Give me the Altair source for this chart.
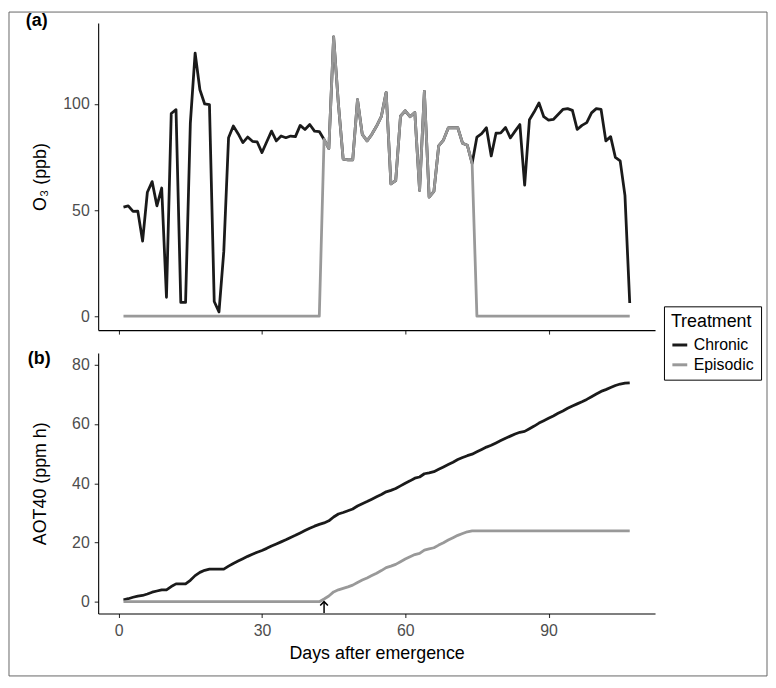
import altair as alt
import pandas as pd

# ---------------- data ----------------
days = list(range(1, 108))

chronic_o3 = [
    51.4, 52.0, 49.4, 49.5, 35.4, 58.4, 63.4, 52.0, 60.4, 8.9,
    95.5, 97.3, 6.5, 6.5, 91.0, 124.0, 106.7, 100.0, 99.7, 6.9,
    2.0, 30.4, 84.1, 89.6, 86.0, 81.8, 84.4, 82.4, 82.1, 77.1,
    82.2, 87.2, 82.6, 84.9, 84.1, 84.9, 84.6, 89.9, 88.0, 90.3,
    87.2, 87.0, 83.3, 79.0, 131.6, 100.0, 74.0, 73.7, 73.7, 102.0,
    85.7, 82.6, 85.7, 89.6, 94.2, 105.5, 62.3, 63.9, 94.2, 96.8,
    94.0, 96.0, 59.3, 105.9, 56.1, 58.8, 80.2, 83.0, 88.7, 88.8,
    88.8, 81.5, 80.5, 72.0, 84.4, 86.0, 88.8, 75.5, 86.2, 86.4,
    88.9, 84.0, 87.2, 90.3, 61.8, 92.6, 96.3, 100.5, 94.0, 92.4,
    92.7, 95.0, 97.4, 97.8, 97.0, 88.0, 89.9, 91.2, 95.8, 97.8,
    97.4, 82.6, 84.6, 74.8, 73.2, 56.9, 6.2,
]

episodic_o3 = [0.0] * 42 + [
    83.3, 79.0, 131.6, 100.0, 74.0, 73.7, 73.7, 102.0, 85.7, 82.6,
    85.7, 89.6, 94.2, 105.5, 62.3, 63.9, 94.2, 96.8, 94.0, 96.0,
    59.3, 105.9, 56.1, 58.8, 80.2, 83.0, 88.7, 88.8, 88.8, 81.5,
    80.5, 72.0,
] + [0.0] * 33

chronic_aot = [
    0.6, 1.0, 1.5, 1.9, 2.1, 2.6, 3.2, 3.6, 4.0, 4.0,
    5.1, 6.0, 6.0, 6.0, 7.2, 8.8, 9.9, 10.6, 11.0, 11.0,
    11.0, 11.0, 12.0, 12.9, 13.7, 14.5, 15.3, 16.0, 16.7, 17.3,
    18.0, 18.8, 19.5, 20.2, 20.9, 21.7, 22.4, 23.2, 24.0, 24.8,
    25.5, 26.1, 26.6, 27.3, 28.6, 29.6, 30.1, 30.7, 31.3, 32.3,
    33.1, 33.8, 34.6, 35.4, 36.2, 37.1, 37.6, 38.2, 39.1, 40.0,
    40.8, 41.7, 42.1, 43.2, 43.5, 43.9, 44.7, 45.5, 46.3, 47.1,
    48.0, 48.7, 49.3, 49.8, 50.6, 51.4, 52.2, 52.8, 53.6, 54.4,
    55.2, 55.9, 56.6, 57.2, 57.5, 58.4, 59.3, 60.3, 61.1, 61.9,
    62.7, 63.6, 64.4, 65.3, 66.1, 66.8, 67.5, 68.3, 69.2, 70.1,
    71.0, 71.6, 72.3, 73.0, 73.5, 73.8, 73.9,
]

episodic_aot = [0.0] * 42 + [
    0.9, 1.9, 3.3, 4.0, 4.5, 5.0, 5.6, 6.5, 7.3, 8.0,
    8.8, 9.6, 10.5, 11.5, 12.0, 12.6, 13.5, 14.4, 15.2, 15.9,
    16.3, 17.4, 17.8, 18.2, 19.1, 19.9, 20.8, 21.6, 22.4, 23.0,
    23.6, 23.9,
] + [23.9] * 33

treatments = ["Chronic", "Episodic"]
line_colors = ["#1a1a1a", "#999999"]

x_ticks = [0, 30, 60, 90]
o3_ticks = [0, 50, 100]
aot_ticks = [0, 20, 40, 60, 80]

arrow_day = [43]
arrow_start = [-3.8]
arrow_end = [0.0]

# ---------------- tables ----------------
df = pd.DataFrame({
    "day": days * 2,
    "treatment": ["Chronic"] * len(days) + ["Episodic"] * len(days),
    "o3": chronic_o3 + episodic_o3,
    "aot": chronic_aot + episodic_aot,
})
arrow_df = pd.DataFrame({"day": arrow_day, "aot": arrow_start, "aot2": arrow_end})
one = pd.DataFrame({"k": [0]})

FONT = "Liberation Sans"
W = 562
H_TOP = 310
H_BOT = 263

x_scale = alt.Scale(domain=[-4.3, 112.3], nice=False, zero=False)

legend = alt.Legend(
    title="Treatment", orient="none", legendX=571, legendY=286,
    strokeColor="black", fillColor="white", padding=7,
    titleFontSize=18, titleFont=FONT, titleFontWeight="normal", titleColor="black",
    titlePadding=5, labelFontSize=16, labelFont=FONT, labelColor="black",
    labelOffset=5, symbolType="stroke", symbolStrokeWidth=3, symbolSize=225,
    rowPadding=3, columnPadding=0,
)
color = alt.Color("treatment:N", scale=alt.Scale(domain=treatments, range=line_colors), legend=legend)

# ---------------- top panel ----------------
top_lines = alt.Chart(df).mark_line(strokeWidth=2.8, strokeJoin="round").encode(
    x=alt.X("day:Q", scale=x_scale,
            axis=alt.Axis(values=x_ticks, labels=False, title=None)),
    y=alt.Y("o3:Q", scale=alt.Scale(domain=[-6.58, 138.18], nice=False, zero=False),
            axis=alt.Axis(values=o3_ticks, title="O₃ (ppb)", titleX=-58, titleY=H_TOP / 2,
                          titleAngle=270, titleBaseline="middle", titleAlign="center")),
    color=color,
)

border = alt.Chart(one).mark_rect(fill="white", fillOpacity=0, stroke="#666666", strokeWidth=1,
                                  strokeJoin="round").encode(
    x=alt.value(-90), x2=alt.value(675), y=alt.value(-11), y2=alt.value(659)
)

tag_a = alt.Chart(one).mark_text(text="(a)", font=FONT, fontSize=18, fontWeight="bold",
                                  align="left", baseline="middle", color="black").encode(
    x=alt.value(-73), y=alt.value(-2)
)

top = alt.layer(border, top_lines, tag_a).properties(width=W, height=H_TOP)

# ---------------- bottom panel ----------------
bot_lines = alt.Chart(df).mark_line(strokeWidth=2.8, strokeJoin="round").encode(
    x=alt.X("day:Q", scale=x_scale,
            axis=alt.Axis(values=x_ticks, title="Days after emergence", titleX=W / 2, titleY=40,
                          titleBaseline="middle", titleAlign="center")),
    y=alt.Y("aot:Q", scale=alt.Scale(domain=[-4, 84], nice=False, zero=False),
            axis=alt.Axis(values=aot_ticks, title="AOT40 (ppm h)", titleX=-58, titleY=H_BOT / 2,
                          titleAngle=270, titleBaseline="middle", titleAlign="center")),
    color=color,
)

arrow_shaft = alt.Chart(arrow_df).mark_rule(color="black", strokeWidth=1.5).encode(
    x="day:Q", y="aot:Q", y2="aot2:Q"
)
arrow_head = alt.Chart(arrow_df).mark_point(
    shape="M-1,1L0,0L1,1", filled=False, color="black", strokeWidth=1.6, size=60, opacity=1
).encode(x="day:Q", y="aot2:Q")

tag_b = alt.Chart(one).mark_text(text="(b)", font=FONT, fontSize=18, fontWeight="bold",
                                  align="left", baseline="middle", color="black").encode(
    x=alt.value(-71), y=alt.value(6.5)
)

bottom = alt.layer(bot_lines, arrow_shaft, arrow_head, tag_b).properties(width=W, height=H_BOT)

chart = alt.vconcat(top, bottom, spacing=23, bounds="flush").properties(
    padding=0, background="white"
).configure(font=FONT).configure_view(stroke=None).configure_axis(
    grid=False, domainColor="black", domainWidth=1.1, tickColor="#333333", tickWidth=1.1,
    tickSize=4, labelColor="#4d4d4d", labelFont=FONT, labelFontSize=16, labelPadding=5,
    titleFont=FONT, titleFontSize=18, titleFontWeight="normal", titleColor="black",
)

chart.save("out.html", embed_options={"renderer": "svg", "actions": False})
